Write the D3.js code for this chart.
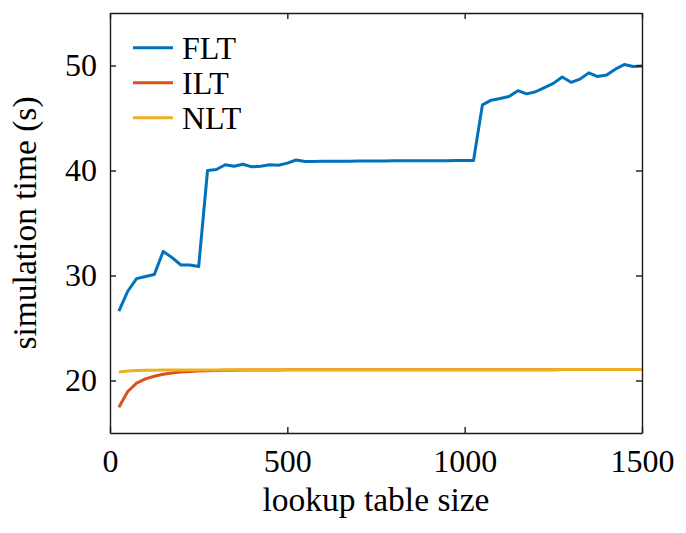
<!DOCTYPE html>
<html>
<head>
<meta charset="utf-8">
<script src="https://cdn.jsdelivr.net/npm/d3@7"></script>
<style>
  html, body { margin: 0; padding: 0; background: #fff; }
  svg { display: block; }
  text { font-family: "Liberation Serif", "Times New Roman", serif; fill: #000; }
</style>
</head>
<body>
<svg id="chart" width="686" height="533"></svg>
<script>
// ---- data ----
const tableSizes = [25,50,75,100,125,150,175,200,225,250,275,300,325,350,375,400,425,450,475,500,
  525,550,575,600,625,650,675,700,725,750,775,800,825,850,875,900,925,950,975,1000,
  1025,1050,1075,1100,1125,1150,1175,1200,1225,1250,1275,1300,1325,1350,1375,1400,1425,1450,1475,1500];

const fltValues = [26.6,28.5,29.7,29.9,30.1,32.3,31.7,31.0,31.0,30.85,
  40.0,40.1,40.55,40.4,40.6,40.35,40.4,40.55,40.5,40.7,
  41.0,40.85,40.85,40.87,40.87,40.88,40.88,40.9,40.9,40.9,
  40.9,40.92,40.92,40.93,40.93,40.93,40.93,40.93,40.95,40.95,
  40.95,46.25,46.7,46.85,47.05,47.6,47.3,47.5,47.9,48.3,
  48.9,48.4,48.7,49.3,48.95,49.1,49.65,50.1,49.9,49.95];

const iltValues = [17.45,18.95,19.75,20.15,20.4,20.6,20.72,20.8,20.85,20.9,
  20.93,20.95,20.97,20.98,20.99,21.0,21.0,21.01,21.01,21.02,
  21.02,21.02,21.02,21.03,21.03,21.03,21.03,21.03,21.03,21.03,
  21.02,21.03,21.03,21.03,21.03,21.03,21.03,21.03,21.03,21.03,
  21.03,21.03,21.03,21.03,21.03,21.03,21.03,21.03,21.03,21.03,
  21.04,21.04,21.04,21.04,21.04,21.04,21.04,21.04,21.04,21.04];

const nltValues = [20.8,20.9,20.95,20.97,20.98,20.99,21.0,21.0,21.0,21.01,
  21.01,21.01,21.02,21.02,21.02,21.02,21.02,21.02,21.02,21.02,
  21.02,21.03,21.03,21.03,21.03,21.03,21.03,21.02,21.03,21.03,
  21.03,21.03,21.03,21.03,21.03,21.03,21.03,21.03,21.03,21.03,
  21.03,21.03,21.03,21.03,21.03,21.03,21.03,21.03,21.03,21.03,
  21.04,21.04,21.04,21.04,21.04,21.04,21.04,21.04,21.04,21.04];

const seriesNames = ["FLT", "ILT", "NLT"];
const seriesColors = ["#0072BD", "#D95319", "#EDB120"];
const xTicks = [0, 500, 1000, 1500];
const yTicks = [20, 30, 40, 50];
const xDomain = [0, 1500];
const yDomain = [15, 55];
const xLabel = "lookup table size";
const yLabel = "simulation time (s)";

// ---- layout ----
const svg = d3.select("#chart");
const mLeft = 110, mRight = 642, mTop = 13, mBottom = 433;
const FS = 32;
const FS_LABEL = 33.5;

const x = d3.scaleLinear().domain(xDomain).range([mLeft, mRight]);
const y = d3.scaleLinear().domain(yDomain).range([mBottom, mTop]);

const seriesData = [fltValues, iltValues, nltValues];

// lines
const line = d3.line().x((d, i) => x(tableSizes[i])).y(d => y(d));
seriesData.forEach((vals, k) => {
  svg.append("path")
    .datum(vals)
    .attr("d", line)
    .attr("fill", "none")
    .attr("stroke", seriesColors[k])
    .attr("stroke-width", 3)
    .attr("stroke-linejoin", "round");
});

// axes
const axisColor = "#1a1a1a";
function styleAxis(g) {
  g.selectAll("path.domain").attr("stroke", axisColor).attr("stroke-width", 1.4);
  g.selectAll(".tick line").attr("stroke", axisColor).attr("stroke-width", 1.4);
  g.selectAll("text").attr("font-family", "Liberation Serif, serif").attr("font-size", FS).attr("fill", "#000");
}

const xAxisB = svg.append("g").attr("transform", `translate(0,${mBottom})`)
  .call(d3.axisBottom(x).tickValues(xTicks).tickFormat(d3.format("d")).tickSizeInner(-6).tickSizeOuter(0).tickPadding(16));
styleAxis(xAxisB);
const xAxisT = svg.append("g").attr("transform", `translate(0,${mTop})`)
  .call(d3.axisTop(x).tickValues(xTicks).tickFormat("").tickSizeInner(-6).tickSizeOuter(0));
styleAxis(xAxisT);
const yAxisL = svg.append("g").attr("transform", `translate(${mLeft},0)`)
  .call(d3.axisLeft(y).tickValues(yTicks).tickFormat(d3.format("d")).tickSizeInner(-6).tickSizeOuter(0).tickPadding(13));
styleAxis(yAxisL);
const yAxisR = svg.append("g").attr("transform", `translate(${mRight},0)`)
  .call(d3.axisRight(y).tickValues(yTicks).tickFormat("").tickSizeInner(-6).tickSizeOuter(0));
styleAxis(yAxisR);

// axis labels
svg.append("text")
  .attr("x", (mLeft + mRight) / 2)
  .attr("y", 511)
  .attr("text-anchor", "middle")
  .attr("font-size", FS_LABEL)
  .text(xLabel);

svg.append("text")
  .attr("transform", `translate(36,${(mTop + mBottom) / 2}) rotate(-90)`)
  .attr("text-anchor", "middle")
  .attr("font-size", FS_LABEL)
  .text(yLabel);

// legend
const legend = svg.append("g");
seriesNames.forEach((name, k) => {
  const ly = 47.7 + k * 35;
  legend.append("line")
    .attr("x1", 133).attr("x2", 173)
    .attr("y1", ly).attr("y2", ly)
    .attr("stroke", seriesColors[k])
    .attr("stroke-width", 3);
  legend.append("text")
    .attr("x", 182)
    .attr("y", ly)
    .attr("dy", "0.35em")
    .attr("font-size", FS)
    .text(name);
});
</script>
</body>
</html>
